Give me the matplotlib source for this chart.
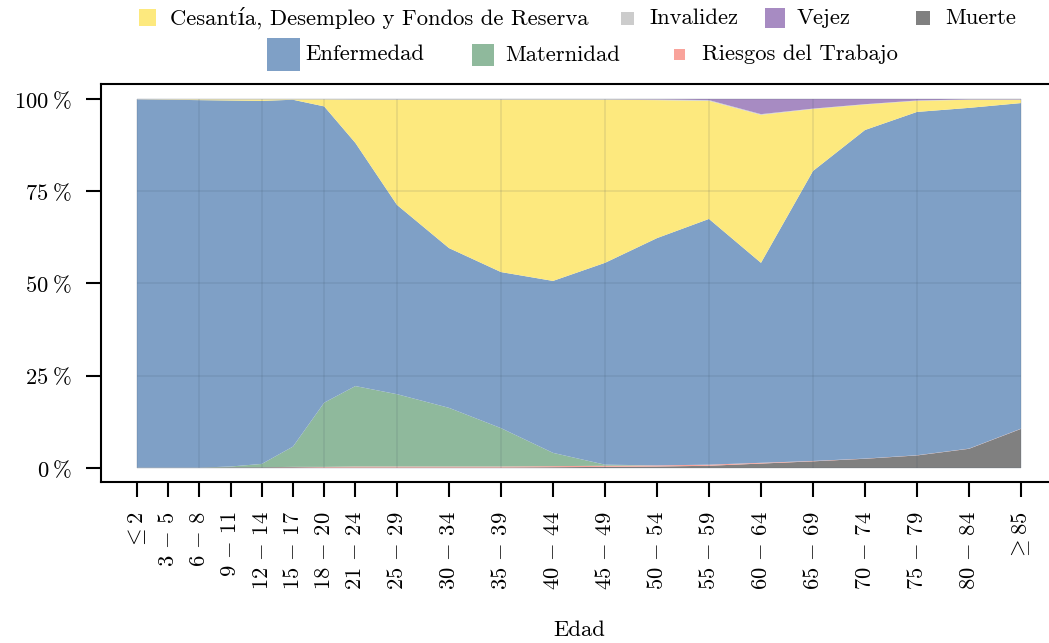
import matplotlib
matplotlib.use("Agg")
import matplotlib.pyplot as plt
from matplotlib.patches import Rectangle
import numpy as np

plt.rcParams['font.family'] = ['cmr10', 'DejaVu Serif']
plt.rcParams['mathtext.fontset'] = 'cm'
plt.rcParams['axes.formatter.use_mathtext'] = True

FS = 16.3

# age groups, positioned at their lower bound
ages = [0, 3, 6, 9, 12, 15, 18, 21, 25, 30, 35, 40, 45, 50, 55, 60, 65, 70, 75, 80, 85]
age_labels = [r'$\leq 2$', r'$3\,-\,5$', r'$6\,-\,8$', r'$9\,-\,11$', r'$12\,-\,14$',
              r'$15\,-\,17$', r'$18\,-\,20$', r'$21\,-\,24$', r'$25\,-\,29$', r'$30\,-\,34$',
              r'$35\,-\,39$', r'$40\,-\,44$', r'$45\,-\,49$', r'$50\,-\,54$', r'$55\,-\,59$',
              r'$60\,-\,64$', r'$65\,-\,69$', r'$70\,-\,74$', r'$75\,-\,79$', r'$80\,-\,84$',
              r'$\geq 85$']

# share (%) by insurance branch, stacked bottom to top
muerte = [0.1, 0.1, 0.1, 0.2, 0.2, 0.2, 0.1, 0.1, 0.1, 0.1, 0.1, 0.2, 0.3, 0.4, 0.6,
          1.2, 1.8, 2.5, 3.4, 5.2, 10.6]
riesgos = [0, 0, 0, 0, 0, 0.1, 0.2, 0.3, 0.3, 0.3, 0.3, 0.3, 0.3, 0.3, 0.3,
           0.2, 0.1, 0.05, 0.05, 0.05, 0.05]
maternidad = [0, 0, 0, 0.2, 0.9, 5.5, 17.4, 21.8, 19.6, 15.9, 10.4, 3.6, 0.3, 0, 0,
              0, 0, 0, 0, 0, 0]
enfermedad = [99.8, 99.7, 99.6, 99.2, 98.4, 94.0, 80.3, 65.9, 51.3, 43.3, 42.3, 46.6,
              54.7, 61.6, 66.6, 54.2, 78.6, 89.05, 93.05, 92.35, 88.25]
cesantia = [0.0, 0.1, 0.2, 0.3, 0.4, 0.1, 1.9, 11.7, 28.5, 40.2, 46.7, 49.1, 44.2,
            37.4, 32.0, 40.1, 16.8, 6.9, 3.0, 2.2, 0.9]
invalidez = [0.1, 0.1, 0.1, 0.1, 0.1, 0.1, 0.1, 0.2, 0.2, 0.2, 0.2, 0.2, 0.2, 0.2, 0.2,
             0.2, 0.1, 0.1, 0.1, 0.1, 0.1]
vejez = [0, 0, 0, 0, 0, 0, 0, 0, 0, 0, 0, 0, 0, 0.1, 0.3, 4.1, 2.6, 1.4, 0.4, 0.1, 0.1]

series = [
    ('Muerte', muerte, '#808080'),
    ('Riesgos del Trabajo', riesgos, '#f9a39b'),
    ('Maternidad', maternidad, '#8fb99c'),
    ('Enfermedad', enfermedad, '#7fa0c6'),
    ('Cesantía, Desempleo y Fondos de Reserva', cesantia, '#fde97e'),
    ('Invalidez', invalidez, '#cccccc'),
    ('Vejez', vejez, '#a78bc2'),
]

W, H = 1049, 643
fig = plt.figure(figsize=(W / 100, H / 100), dpi=100)

x_lo, x_hi = -3.46, 89.0
px_per_year = 884 / 85
ax_w = (x_hi - x_lo) * px_per_year
ax = fig.add_axes([101 / W, 161 / H, ax_w / W, 398 / H])

vals = np.array([s[1] for s in series], dtype=float)
vals = vals / vals.sum(axis=0) * 100
ax.stackplot(ages, vals, colors=[s[2] for s in series], linewidth=0, zorder=1)

# grid only over the data region
yt = [0, 25, 50, 75, 100]
ax.hlines(yt, ages[0], ages[-1], color='#3a4a60', alpha=0.12, lw=1.2, zorder=2)
ax.vlines(ages[::2], 0, 100, color='#3a4a60', alpha=0.12, lw=1.2, zorder=2)

ax.set_xlim(x_lo, x_hi)
ax.set_ylim(-3.8, 104.07)
ax.set_xticks(ages)
ax.set_xticklabels(age_labels, rotation=90, fontsize=FS)
ax.set_yticks(yt)
ax.set_yticklabels([r'$%d\:\%%$' % v for v in yt], fontsize=FS)
ax.tick_params(length=11, width=1.5, pad=10)
ax.spines['right'].set_visible(False)
for s in ['left', 'top', 'bottom']:
    ax.spines[s].set_linewidth(1.5)
ax.set_xlabel('Edad', fontsize=FS, va='center')
ax.xaxis.set_label_coords((579 - 101) / ax_w, -148 / 398)

# legend, two centred rows
legend_items = [
    ('Cesantía, Desempleo y Fondos de Reserva', '#fde97e', 147.5, 17.5, 17),
    ('Invalidez', '#cccccc', 627.5, 18, 13),
    ('Vejez', '#a78bc2', 775, 18, 20),
    ('Muerte', '#808080', 923, 18, 14),
    ('Enfermedad', '#7fa0c6', 283.5, 54.5, 33),
    ('Maternidad', '#8fb99c', 483, 55, 22),
    ('Riesgos del Trabajo', '#f9a39b', 679.5, 54.5, 11),
]
for name, col, cx, cy, sz in legend_items:
    fig.add_artist(Rectangle(((cx - sz / 2) / W, 1 - (cy + sz / 2) / H), sz / W, sz / H,
                             transform=fig.transFigure, color=col, lw=0))
    fig.text((cx + 22) / W, 1 - cy / H, name, fontsize=FS, ha='left', va='center')

fig.savefig('out.png', dpi=100)
